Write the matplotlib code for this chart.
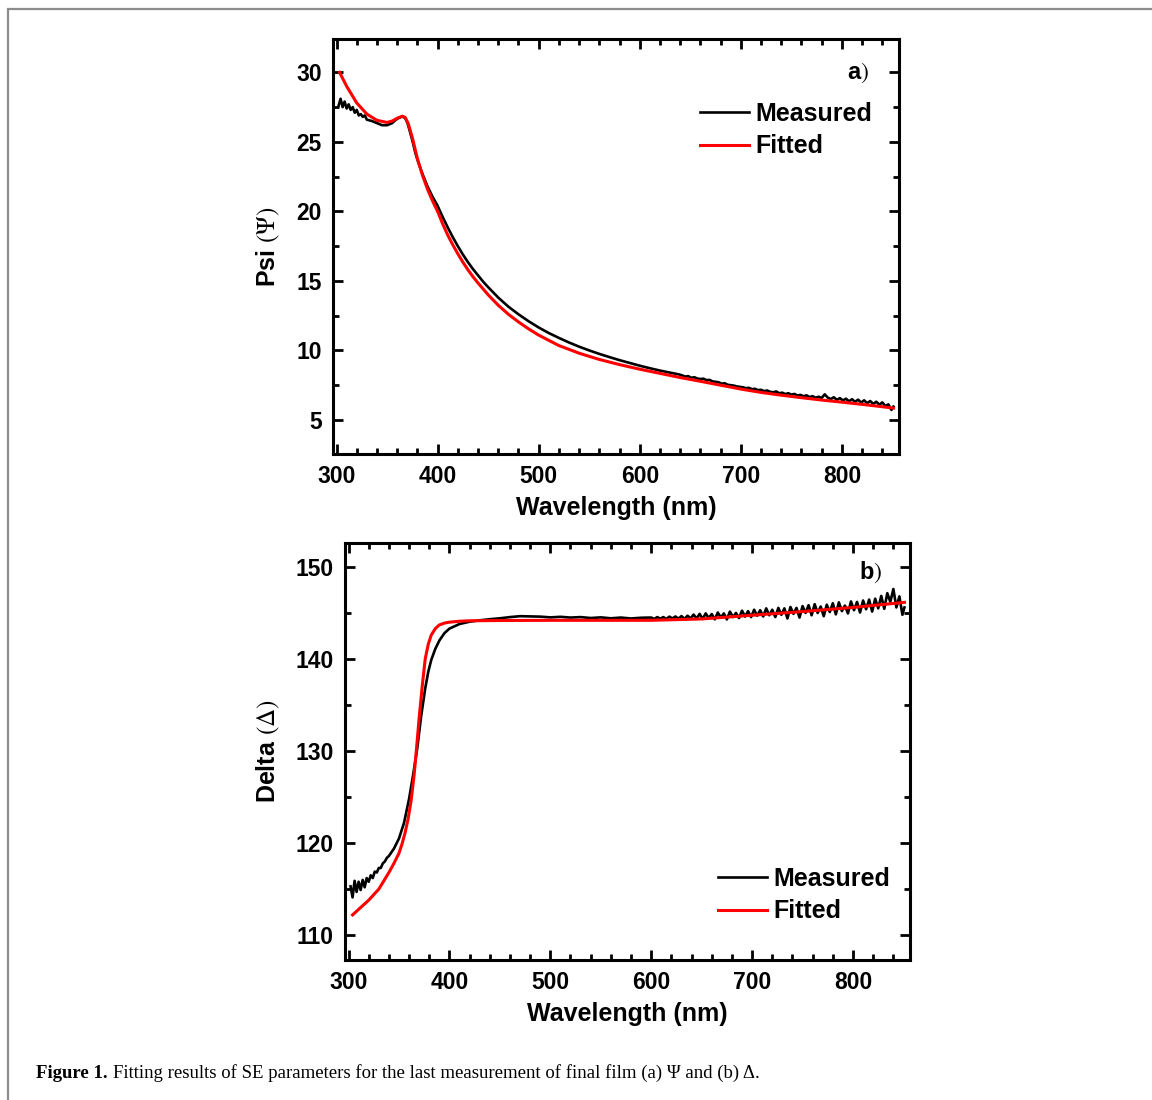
import matplotlib
matplotlib.use("Agg")
import matplotlib.pyplot as plt
from matplotlib.ticker import MultipleLocator
from matplotlib.patches import Rectangle

# ---------------- data ----------------
psi_meas_wl = [302, 304, 306, 308, 310, 312, 314, 316, 318, 320, 322, 324, 326, 328, 330,
               335, 340, 345, 350, 355, 358, 361, 364, 366, 368, 370, 372, 375, 378, 381,
               385, 390, 395, 400, 405, 410, 415, 420, 425, 430, 435, 440, 445, 450, 460,
               470, 480, 490, 500, 510, 520, 530, 540, 550, 560, 570, 580, 590, 600, 610,
               620, 630, 639,
               642, 645, 648, 651, 654, 657, 660, 663, 666, 669, 672, 675, 678, 681, 684,
               687, 690, 693, 696, 699, 702, 705, 708, 711, 714, 717, 720, 723, 726, 729,
               732, 735, 738, 741, 744, 747, 750, 753, 756, 759, 762, 765, 768, 771, 774,
               777, 780, 783, 786, 789, 792, 795, 798, 801, 804, 807, 810, 813, 816, 819,
               822, 825, 828, 831, 834, 837, 840, 843, 846, 849, 851]
psi_meas = [27.6, 28.1, 27.5, 27.9, 27.4, 27.7, 27.3, 27.5, 27.1, 27.3, 26.9, 27.0, 26.8, 26.9, 26.6,
            26.5, 26.35, 26.2, 26.2, 26.35, 26.55, 26.7, 26.8, 26.8, 26.7, 26.4, 25.9, 25.1, 24.2, 23.5,
            22.7, 21.8, 21.05, 20.4, 19.6, 18.85, 18.15, 17.5, 16.9, 16.35, 15.85, 15.4, 14.95, 14.55, 13.8,
            13.15, 12.6, 12.1, 11.65, 11.25, 10.9, 10.57, 10.27, 10.0, 9.75, 9.52, 9.3, 9.1, 8.9, 8.72,
            8.55, 8.4, 8.27,
            8.20, 8.12, 8.15, 8.03, 8.07, 7.98, 7.94, 7.97, 7.86, 7.88, 7.77, 7.74, 7.71, 7.61, 7.64,
            7.53, 7.50, 7.47, 7.41, 7.38, 7.35, 7.28, 7.31, 7.21, 7.24, 7.14, 7.17, 7.07, 7.12, 7.02,
            6.99, 7.05, 6.92, 6.96, 6.86, 6.92, 6.82, 6.87, 6.76, 6.80, 6.70, 6.77, 6.64, 6.71, 6.60,
            6.67, 6.58, 6.84, 6.61, 6.50, 6.63, 6.44, 6.57, 6.40, 6.53, 6.34, 6.49, 6.30, 6.46, 6.25,
            6.41, 6.20, 6.36, 6.15, 6.31, 6.10, 6.26, 6.00, 6.12, 5.72, 5.96]

psi_fit_wl = [303, 310, 320, 330, 340, 350, 355, 360, 365, 368, 371, 375, 380, 385, 390, 395,
              400, 405, 410, 415, 420, 425, 430, 435, 440, 450, 460, 470, 480, 490, 500, 520,
              540, 560, 580, 600, 620, 640, 660, 680, 700, 720, 740, 760, 780, 800, 820, 840, 851]
psi_fit = [30.0, 29.0, 27.8, 27.0, 26.55, 26.4, 26.5, 26.7, 26.85, 26.75, 26.3, 25.3, 23.8, 22.6, 21.6, 20.75,
           20.0, 19.1, 18.3, 17.6, 16.95, 16.35, 15.8, 15.3, 14.85, 14.0, 13.25, 12.6, 12.05, 11.55, 11.1, 10.35,
           9.8, 9.35, 8.98, 8.65, 8.35, 8.05, 7.78, 7.5, 7.22, 6.98, 6.78, 6.6, 6.43, 6.28, 6.12, 5.95, 5.85]

delta_meas_wl = [302, 304, 306, 308, 310, 312, 314, 316, 318, 320, 322, 324, 326, 328, 330, 332, 334, 336,
                 338, 340, 345, 350, 355, 360, 364, 368, 372, 376, 379, 382, 386, 390, 395, 400,
                 410, 420, 430, 440, 450, 460, 470, 480, 490, 500, 510, 520, 530, 540, 550, 560, 570,
                 580, 590,
                 600, 603, 606, 609, 612, 615, 618, 621, 624, 627, 630, 633, 636, 639, 642, 645, 648,
                 651, 654, 657, 660, 663, 666, 669, 672, 675, 678, 681, 684, 687, 690, 693, 696, 699,
                 702, 705, 708, 711, 714, 717, 720, 723, 726, 729, 732, 735, 738, 741, 744, 747, 750,
                 753, 756, 759, 762, 765, 768, 771, 774, 777, 780, 783, 786, 789, 792, 795, 798, 801,
                 804, 807, 810, 813, 816, 819, 822, 825, 828, 831, 834, 837, 840, 843, 846, 849, 851]
delta_meas = [115.3, 114.1, 115.9, 114.7, 115.8, 114.9, 116.0, 115.2, 116.2, 115.8, 116.5, 116.2, 116.9,
              116.8, 117.3, 117.3, 117.8, 118.0, 118.4, 118.6, 119.4, 120.5, 122.2, 124.8, 127.4, 130.2,
              133.8, 136.8, 138.6, 139.9, 141.1, 142.0, 142.8, 143.3,
              143.8, 144.05, 144.2, 144.32, 144.42, 144.55, 144.65, 144.62, 144.6, 144.52, 144.58, 144.5,
              144.55, 144.45, 144.52, 144.42, 144.5, 144.4, 144.48,
              144.5, 144.35, 144.55, 144.38, 144.55, 144.35, 144.6, 144.4, 144.62, 144.38, 144.66, 144.35,
              144.7, 144.42, 144.82, 144.4, 144.9, 144.35, 144.95, 144.45, 144.88, 144.3, 145.05, 144.5,
              144.95, 144.3, 145.15, 144.55, 145.0, 144.45, 145.25, 144.6, 145.2, 144.55, 145.35, 144.7,
              145.3, 144.62, 145.5, 144.75, 145.35, 144.55, 145.55, 144.8, 145.5, 144.4, 145.65, 144.9,
              145.55, 144.5, 145.75, 145.0, 145.85, 144.75, 145.95, 145.0, 145.7, 144.65, 145.9, 145.1,
              146.05, 144.85, 146.15, 145.2, 145.8, 144.95, 146.25, 145.3, 146.2, 145.05, 146.35, 145.4,
              146.45, 145.15, 146.55, 145.5, 146.85, 145.45, 147.15, 146.2, 147.6, 145.6, 146.8, 144.8, 145.6]

delta_fit_wl = [304, 310, 320, 330, 340, 345, 350, 353, 356, 359, 362, 365, 367, 370, 373, 376, 379,
                382, 386, 390, 395, 400, 410, 420, 450, 500, 550, 600, 650, 700, 750, 800, 851]
delta_fit = [112.2, 112.8, 113.8, 115.0, 116.8, 117.8, 118.9, 119.9, 121.1, 122.6, 124.6, 127.4, 129.8,
             133.6, 137.0, 140.0, 141.6, 142.6, 143.3, 143.7, 143.9, 144.0, 144.1, 144.15, 144.18, 144.2,
             144.2, 144.2, 144.35, 144.75, 145.15, 145.6, 146.15]

x_ticks = [300, 400, 500, 600, 700, 800]
psi_yticks = [5, 10, 15, 20, 25, 30]
delta_yticks = [110, 120, 130, 140, 150]
legend_labels = ["Measured", "Fitted"]

# ---------------- style ----------------
SANS = ["Liberation Sans", "DejaVu Sans"]
SERIF = ["Liberation Serif", "DejaVu Serif"]
plt.rcParams["font.family"] = SANS
plt.rcParams["mathtext.fontset"] = "stix"

W, H = 1152, 1100
fig = plt.figure(figsize=(W / 100, H / 100), dpi=100)


def ax_rect(l, t, r, b):
    return [l / W, 1 - b / H, (r - l) / W, (b - t) / H]


def style_axes(ax, xlim, ylim, yticks, ylabel):
    ax.set_xlim(*xlim)
    ax.set_ylim(*ylim)
    ax.set_xticks(x_ticks)
    ax.set_yticks(yticks)
    ax.xaxis.set_minor_locator(MultipleLocator(20))
    ax.yaxis.set_minor_locator(MultipleLocator((yticks[1] - yticks[0]) / 2))
    for s in ax.spines.values():
        s.set_linewidth(2.2)
    ax.tick_params(which="both", direction="in", top=True, right=True, width=2.0)
    ax.tick_params(which="major", length=7, pad=8, labelsize=16.5)
    ax.tick_params(which="minor", length=4.5)
    for lab in ax.get_xticklabels() + ax.get_yticklabels():
        lab.set_fontweight("bold")
    ax.set_xlabel("Wavelength (nm)", fontsize=18, fontweight="bold", labelpad=6)
    ax.set_ylabel(ylabel, fontsize=18, fontweight="bold", labelpad=10)


# top panel
ax1 = fig.add_axes(ax_rect(333, 39, 899, 454))
ax1.plot(psi_meas_wl, psi_meas, color="black", lw=1.9, label=legend_labels[0])
ax1.plot(psi_fit_wl, psi_fit, color="#ff0000", lw=2.2, label=legend_labels[1])
style_axes(ax1, (296.5, 856.5), (2.55, 32.4), psi_yticks, r"Psi $(\Psi)$")
ax1.text(869 / W, 1 - 73 / H, r"a$)$", transform=fig.transFigure, ha="right", va="center",
         fontsize=17, fontweight="bold")
ax1.legend(loc="upper left", bbox_to_anchor=(700 / W, 1 - 102 / H), bbox_transform=fig.transFigure,
           frameon=False, borderpad=0, borderaxespad=0, handlelength=1.95, handletextpad=0.25,
           labelspacing=0.33, prop={"size": 18, "weight": "bold"})

# bottom panel
ax2 = fig.add_axes(ax_rect(345, 543, 910, 960))
ax2.plot(delta_meas_wl, delta_meas, color="black", lw=1.9, label=legend_labels[0])
ax2.plot(delta_fit_wl, delta_fit, color="#ff0000", lw=2.2, label=legend_labels[1])
style_axes(ax2, (296.5, 856.5), (107.3, 152.6), delta_yticks, r"Delta $(\Delta)$")
ax2.text(882 / W, 1 - 572 / H, r"b$)$", transform=fig.transFigure, ha="right", va="center",
         fontsize=17, fontweight="bold")
ax2.legend(loc="upper left", bbox_to_anchor=(718 / W, 1 - 867 / H), bbox_transform=fig.transFigure,
           frameon=False, borderpad=0, borderaxespad=0, handlelength=1.95, handletextpad=0.25,
           labelspacing=0.33, prop={"size": 18, "weight": "bold"})

# border
fig.patches.append(Rectangle((7.5 / W, -0.01), 1.02, 1 - 9 / H + 0.01, transform=fig.transFigure,
                             fill=False, edgecolor="#8c8c8c", lw=1.6))

# caption
t1 = fig.text(36 / W, 1 - 1073 / H, "Figure 1.", family=SERIF, fontweight="bold", fontsize=13.5,
              ha="left", va="center")
fig.canvas.draw()
bb = t1.get_window_extent()
fig.text((bb.x1 + 5) / W, 1 - 1073 / H,
         "Fitting results of SE parameters for the last measurement of final film (a) \u03a8 and (b) \u0394.",
         family=SERIF, fontsize=13.5, ha="left", va="center")

fig.savefig("out.png", dpi=100)
